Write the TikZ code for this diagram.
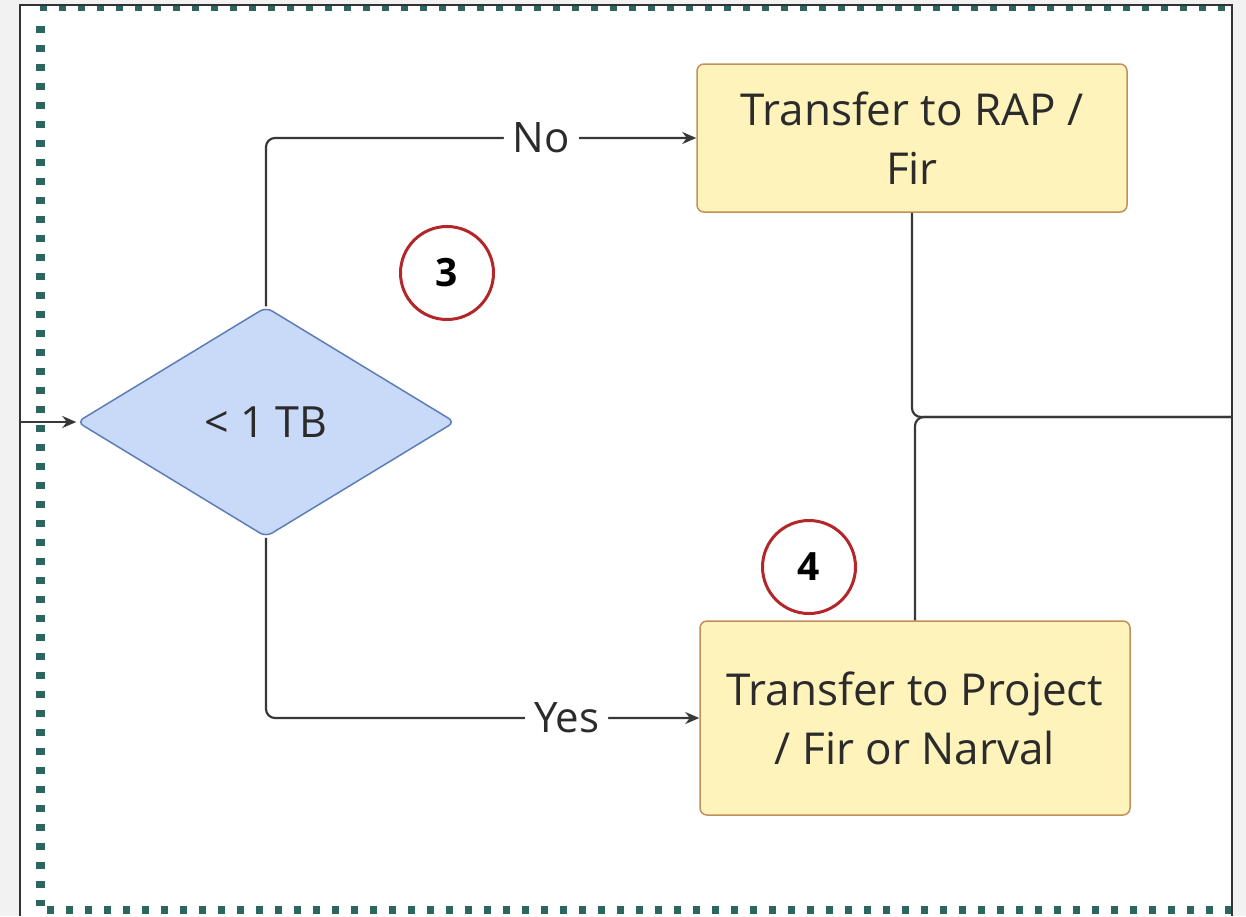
\documentclass[tikz,border=0pt]{standalone}
\usepackage{fontspec}
\setmainfont{Open Sans}
\usetikzlibrary{shapes.geometric,arrows.meta}
\definecolor{bgc}{HTML}{F2F2F2}
\definecolor{framec}{HTML}{333333}
\definecolor{tealc}{HTML}{2B665F}
\definecolor{diafill}{HTML}{C9DAF8}
\definecolor{diaedge}{HTML}{5C7DB8}
\definecolor{boxfill}{HTML}{FFF3BC}
\definecolor{boxedge}{HTML}{C28F5A}
\definecolor{redc}{HTML}{B3262A}
\definecolor{linec}{HTML}{383838}
\definecolor{textc}{HTML}{2B2B2B}
\begin{document}
\begin{tikzpicture}[x=1pt,y=-1pt,
  diam/.style={diamond, draw=diaedge, fill=diafill, line width=1.5pt, rounded corners=7pt,
     minimum width=378pt, minimum height=230pt, aspect=1.64, inner sep=0pt,
     font=\fontsize{43}{50}\selectfont, text=textc},
  box/.style={rectangle, draw=boxedge, fill=boxfill, line width=1.5pt, rounded corners=7pt,
     minimum width=430pt, align=center, inner sep=0pt,
     font=\fontsize{44}{59}\selectfont, text=textc},
  conn/.style={draw=linec, line width=2.2pt, rounded corners=9pt},
  arr/.style={-{Stealth[length=14pt,width=12pt]}},
  lab/.style={fill=white, inner xsep=9pt, inner ysep=2pt, font=\fontsize{42}{48}\selectfont, text=textc},
  num/.style={circle, draw=redc, line width=3pt, minimum size=93pt, inner sep=0pt,
     font=\bfseries\fontsize{39}{44}\selectfont, text=black}
]
\fill[bgc] (0,0) rectangle (1246,916);
\useasboundingbox (0,0) rectangle (1246,916);
\fill[white] (20,5) rectangle (1232,916);
\begin{scope}
\clip (21,6) rectangle (1231,916);
\draw[tealc, line width=8pt, dash pattern=on 7pt off 12pt] (40,7) -- (1240,7);
\draw[tealc, line width=9pt, dash pattern=on 7pt off 12pt] (40,26) -- (40,906);
\draw[tealc, line width=8pt, dash pattern=on 7pt off 12pt] (47,910) -- (1240,910);
\end{scope}
\draw[framec, line width=2pt] (20,916) -- (20,5) -- (1232,5) -- (1232,916);

\node[diam] (d) at (266,422) {\raisebox{-2pt}{< 1 TB}};
\node[box, minimum height=148pt] (b1) at (912,138) {\raisebox{-3pt}{Transfer to RAP /}\\\raisebox{-3pt}{Fir}};
\node[box, minimum height=194pt] (b2) at (915,718) {Transfer to Project\\/ Fir or Narval};
\node[num] (c3) at (447,273) {3};
\node[num] (c4) at (809,567) {4};

\coordinate (in) at (20,422);
\coordinate (m) at (1232,417);
\draw[conn, arr] (in) -- (d.west);
\draw[conn, arr] (d.north) |- node[lab, pos=0.82] {No} (b1.west);
\draw[conn, arr] (d.south) |- node[lab, pos=0.847] {Yes} (b2.west);
\draw[conn] (b1.south) |- (m);
\draw[conn] (b2.north) |- (m);
\end{tikzpicture}
\end{document}
